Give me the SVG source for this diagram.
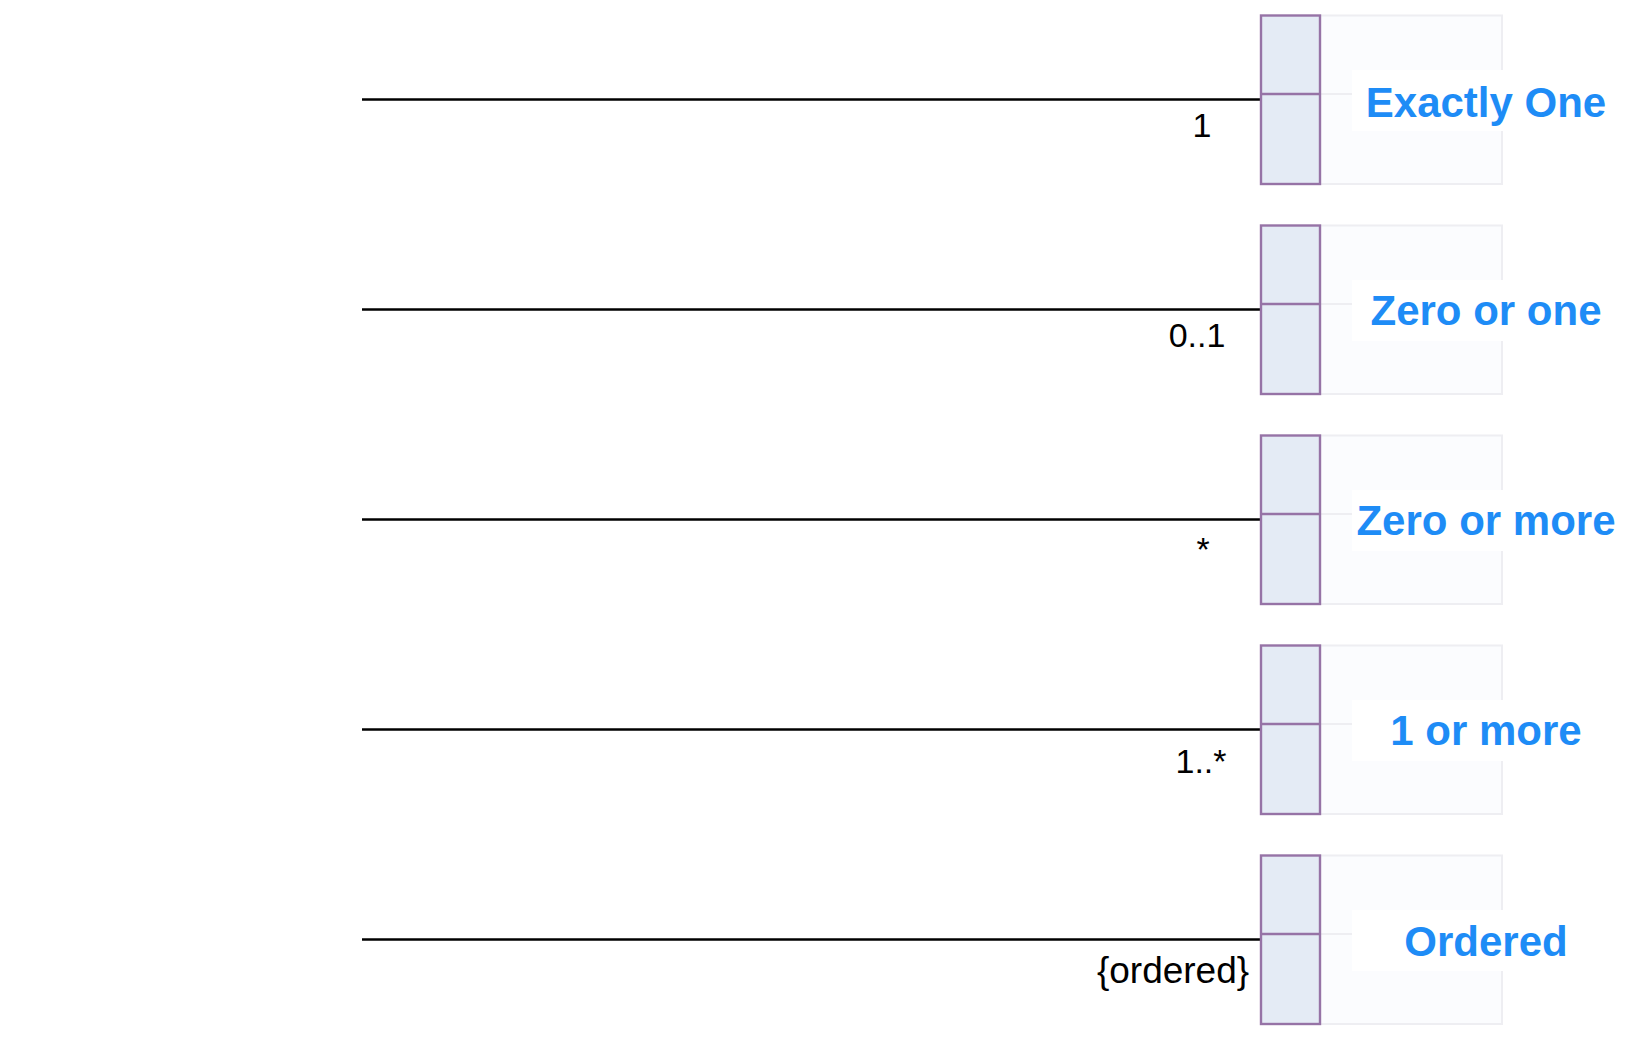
<svg xmlns="http://www.w3.org/2000/svg" width="1650" height="1050" viewBox="0 0 1650 1050">
<style>
.conn{stroke:#000;stroke-width:2.4;fill:none}
.pbox{fill:#E4EBF5;stroke:#9673A6;stroke-width:2.4}
.pdiv{stroke:#9673A6;stroke-width:2.4}
.lbox{fill:#FBFCFE;stroke:#EEEEF2;stroke-width:2}
.ldiv{stroke:#EEEEF2;stroke-width:2}
.lbg{fill:#FFFFFF}
.title{font-family:"Liberation Sans",Arial,Helvetica,sans-serif;font-weight:bold;font-size:42px;fill:#1E8CF6;text-anchor:middle}
.mult{font-family:"Liberation Sans",Arial,Helvetica,sans-serif;font-size:34px;fill:#000;text-anchor:middle}
</style>
<rect width="1650" height="1050" fill="#FFFFFF"/>
<g id="connectors">
<line class="conn" x1="362" y1="99.5" x2="1261" y2="99.5"/>
<line class="conn" x1="362" y1="309.5" x2="1261" y2="309.5"/>
<line class="conn" x1="362" y1="519.5" x2="1261" y2="519.5"/>
<line class="conn" x1="362" y1="729.5" x2="1261" y2="729.5"/>
<line class="conn" x1="362" y1="939.5" x2="1261" y2="939.5"/>
<text class="mult" x="1202" y="137">1</text>
<text class="mult" x="1197" y="347">0..1</text>
<text class="mult" x="1203" y="561">*</text>
<text class="mult" x="1201" y="773">1..*</text>
<text class="mult" x="1173" y="983" style="font-size:37px">{ordered}</text>
</g>
<g id="node-exactly-one" transform="translate(0,0)">
<rect class="lbox" x="1320" y="15.5" width="182" height="168.5"/>
<line class="ldiv" x1="1320" y1="94" x2="1502" y2="94"/>
<rect class="pbox" x="1261" y="15.5" width="59" height="168.5"/>
<line class="pdiv" x1="1261" y1="94" x2="1320" y2="94"/>
<rect class="lbg" x="1352" y="70" width="268" height="61"/>
<text class="title" x="1486" y="116.5">Exactly One</text>
</g>
<g id="node-zero-or-one" transform="translate(0,210)">
<rect class="lbox" x="1320" y="15.5" width="182" height="168.5"/>
<line class="ldiv" x1="1320" y1="94" x2="1502" y2="94"/>
<rect class="pbox" x="1261" y="15.5" width="59" height="168.5"/>
<line class="pdiv" x1="1261" y1="94" x2="1320" y2="94"/>
<rect class="lbg" x="1352" y="70" width="268" height="61"/>
<text class="title" x="1486" y="115">Zero or one</text>
</g>
<g id="node-zero-or-more" transform="translate(0,420)">
<rect class="lbox" x="1320" y="15.5" width="182" height="168.5"/>
<line class="ldiv" x1="1320" y1="94" x2="1502" y2="94"/>
<rect class="pbox" x="1261" y="15.5" width="59" height="168.5"/>
<line class="pdiv" x1="1261" y1="94" x2="1320" y2="94"/>
<rect class="lbg" x="1352" y="70" width="268" height="61"/>
<text class="title" x="1486" y="115">Zero or more</text>
</g>
<g id="node-one-or-more" transform="translate(0,630)">
<rect class="lbox" x="1320" y="15.5" width="182" height="168.5"/>
<line class="ldiv" x1="1320" y1="94" x2="1502" y2="94"/>
<rect class="pbox" x="1261" y="15.5" width="59" height="168.5"/>
<line class="pdiv" x1="1261" y1="94" x2="1320" y2="94"/>
<rect class="lbg" x="1352" y="70" width="268" height="61"/>
<text class="title" x="1486" y="115">1 or more</text>
</g>
<g id="node-ordered" transform="translate(0,840)">
<rect class="lbox" x="1320" y="15.5" width="182" height="168.5"/>
<line class="ldiv" x1="1320" y1="94" x2="1502" y2="94"/>
<rect class="pbox" x="1261" y="15.5" width="59" height="168.5"/>
<line class="pdiv" x1="1261" y1="94" x2="1320" y2="94"/>
<rect class="lbg" x="1352" y="70" width="268" height="61"/>
<text class="title" x="1486" y="116">Ordered</text>
</g>
</svg>
